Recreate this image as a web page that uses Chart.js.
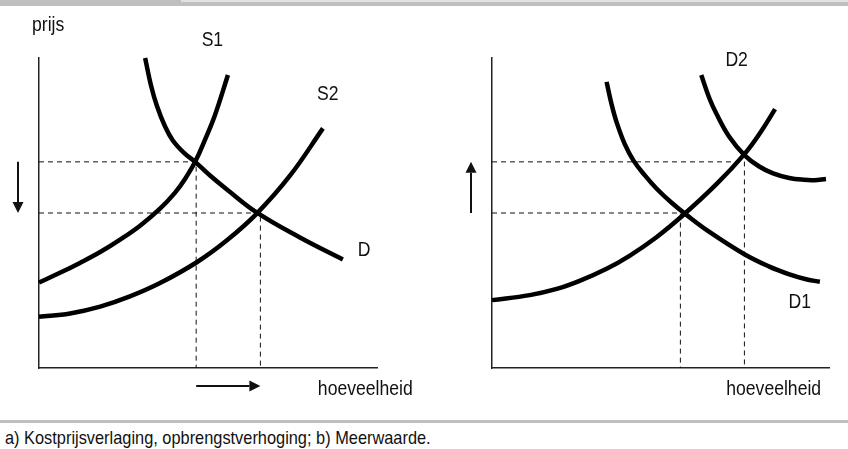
<!DOCTYPE html>
<html>
<head>
<meta charset="utf-8">
<script src="https://cdn.jsdelivr.net/npm/chart.js@4.4.0/dist/chart.umd.min.js"></script>
<style>
  html, body { margin: 0; padding: 0; background: #fff; }
  body {
    width: 848px; height: 449px; position: relative; overflow: hidden;
    font-family: "Liberation Sans", Arial, sans-serif;
  }
  #topbar { position: absolute; left: 0; top: 0; width: 848px; height: 6px; background: #bfbfbf; }
  #topbar-light { position: absolute; left: 181px; top: 0; width: 667px; height: 2px; background: #e2e2e2; }
  #bottombar { position: absolute; left: 0; top: 420px; width: 848px; height: 3px; background: #bfbfbf; }
  #footer {
    position: absolute; left: 5px; top: 428px; font-size: 18.6px; line-height: 19px; color: #111;
    white-space: nowrap; transform: scaleX(0.88); transform-origin: 0 0;
  }
  canvas { position: absolute; top: 0; }
  #left { left: 0; }
  #right { left: 424px; }
</style>
</head>
<body>
<div id="topbar"></div>
<div id="topbar-light"></div>
<canvas id="left" width="424" height="400"></canvas>
<canvas id="right" width="424" height="400"></canvas>
<div id="bottombar"></div>
<div id="footer">a) Kostprijsverlaging, opbrengstverhoging; b) Meerwaarde.</div>

<script>
// Left panel: supply shifts S1 -> S2, demand D stays
const s1X = [0, 6.2, 12.1, 18.1, 24, 29.9, 35.8, 40.2, 43.2, 46.2, 49.1, 52.1, 55.9];
const s1Y = [27.6, 30.7, 33.9, 37.4, 41.4, 45.9, 51.4, 56.5, 61, 66.5, 73.6, 81.7, 94.5];
const s2X = [0, 9.2, 18.1, 26.9, 35.8, 46.8, 55.6, 64.5, 74.3, 84];
const s2Y = [16.5, 17.6, 19.8, 23.1, 27.4, 34.2, 41.2, 49.9, 62.1, 77.3];
const dX = [31.4, 33.1, 34.9, 37.3, 39.6, 42.9, 46.2, 50.6, 55.6, 64.5, 77.2, 89.9];
const dY = [100, 91.3, 84.5, 77.9, 73.4, 69.4, 66.5, 62.1, 57.6, 50.1, 42.1, 35];
const leftPrice = [66.5, 50];   // old, new
const leftQty = [46.5, 65.5];

// Right panel: demand shifts D1 -> D2, supply stays
const sX = [0, 11.2, 19.2, 26, 34, 40.8, 48.8, 56.5, 66.6, 74.9, 79.6, 84];
const sY = [21.9, 23.5, 25.5, 28.1, 32, 36.2, 42.2, 49.1, 59.3, 69, 75.9, 83.5];
const d1X = [34, 35.5, 37, 39.4, 42, 45.3, 48.8, 53.3, 57.7, 64.5, 74.9, 82.3, 88.5, 92.9, 97.3];
const d1Y = [92.3, 85, 79.2, 72.2, 66.9, 62.2, 57.9, 53.3, 49.4, 43.9, 36.7, 32.7, 30.1, 28.7, 27.8];
const d2X = [62.1, 64.5, 66.6, 70.4, 74.9, 79.3, 83.4, 88.2, 92.6, 95.6, 99.1];
const d2Y = [94.5, 87, 82, 74.6, 68.7, 65, 62.8, 61.3, 60.7, 60.6, 61];
const rightPrice = [50, 66.5];
const rightQty = [55.9, 74.9];

const FONT = '"Liberation Sans", Arial, sans-serif';

function pts(xs, ys) {
  return xs.map((x, i) => ({ x: x, y: ys[i] }));
}

function curve(xs, ys) {
  return {
    data: pts(xs, ys),
    borderColor: '#000',
    borderWidth: 4.5,
    pointRadius: 0,
    fill: false,
    tension: 0.4,
    clip: false
  };
}

// dashed guide: from the price axis to the equilibrium and down to the quantity axis
function guide(q, p) {
  return {
    data: [{ x: 0, y: p }, { x: q, y: p }, { x: q, y: 0 }],
    borderColor: '#111',
    borderWidth: 1,
    borderDash: [5, 4],
    pointRadius: 0,
    fill: false,
    tension: 0
  };
}

function arrow(ctx, x1, y1, x2, y2) {
  const a = Math.atan2(y2 - y1, x2 - x1);
  const len = 11, half = 5.5;
  ctx.beginPath();
  ctx.moveTo(x1, y1);
  ctx.lineTo(x2 - Math.cos(a) * len, y2 - Math.sin(a) * len);
  ctx.stroke();
  ctx.beginPath();
  ctx.moveTo(x2, y2);
  ctx.lineTo(x2 - Math.cos(a) * len - Math.sin(a) * half, y2 - Math.sin(a) * len + Math.cos(a) * half);
  ctx.lineTo(x2 - Math.cos(a) * len + Math.sin(a) * half, y2 - Math.sin(a) * len - Math.cos(a) * half);
  ctx.closePath();
  ctx.fill();
}

// narrow text, like the condensed face of the original
function text(ctx, str, x, y) {
  ctx.save();
  ctx.translate(x, y);
  ctx.scale(0.88, 1);
  ctx.fillText(str, 0, 0);
  ctx.restore();
}

// Curve names, axis names and shift arrows
const annotate = {
  id: 'annotate',
  afterDraw(chart, args, opts) {
    const ctx = chart.ctx;
    const xs = chart.scales.x, ys = chart.scales.y;
    const area = chart.chartArea;
    ctx.save();
    ctx.fillStyle = '#111';
    ctx.strokeStyle = '#111';
    ctx.font = '20px ' + FONT;

    ctx.textAlign = 'center';
    ctx.textBaseline = 'middle';
    opts.labels.forEach(l => {
      text(ctx, l.text, xs.getPixelForValue(l.x), ys.getPixelForValue(l.y));
    });

    ctx.textAlign = 'left';
    ctx.textBaseline = 'alphabetic';
    if (opts.yTitle) text(ctx, opts.yTitle, area.left - 7, area.top - 27);
    text(ctx, opts.xTitle, xs.getPixelForValue(opts.xTitleAt), area.bottom + 27);

    ctx.lineWidth = 2;
    const ax = area.left - 21;
    arrow(ctx, ax, ys.getPixelForValue(opts.price[0]), ax, ys.getPixelForValue(opts.price[1]));
    if (opts.qtyArrow) {
      const ay = area.bottom + 18;
      arrow(ctx, xs.getPixelForValue(opts.qty[0]), ay, xs.getPixelForValue(opts.qty[1]), ay);
    }
    ctx.restore();
  }
};

function axis() {
  return {
    type: 'linear',
    min: 0,
    max: 100,
    grid: { display: false, drawTicks: false },
    ticks: { display: false },
    border: { display: true, color: '#222', width: 1.5 }
  };
}

function panel(id, padding, datasets, notes) {
  return new Chart(document.getElementById(id), {
    type: 'line',
    data: { datasets: datasets },
    options: {
      responsive: false,
      animation: false,
      events: [],
      layout: { padding: padding },
      scales: { x: axis(), y: axis() },
      plugins: {
        legend: { display: false },
        tooltip: { enabled: false },
        annotate: notes
      }
    },
    plugins: [annotate]
  });
}

panel('left', { left: 39, top: 58, right: 47, bottom: 32 }, [
  curve(s1X, s1Y),
  curve(s2X, s2Y),
  curve(dX, dY),
  guide(leftQty[0], leftPrice[0]),
  guide(leftQty[1], leftPrice[1])
], {
  labels: [
    { text: 'S1', x: 51.3, y: 105.6 },
    { text: 'S2', x: 85.4, y: 88.1 },
    { text: 'D', x: 96.2, y: 37.9 }
  ],
  yTitle: 'prijs',
  xTitle: 'hoeveelheid',
  xTitleAt: 82.5,
  price: leftPrice,
  qty: leftQty,
  qtyArrow: true
});

panel('right', { left: 68, top: 58, right: 19, bottom: 32 }, [
  curve(sX, sY),
  curve(d1X, d1Y),
  curve(d2X, d2Y),
  guide(rightQty[0], rightPrice[0]),
  guide(rightQty[1], rightPrice[1])
], {
  labels: [
    { text: 'D2', x: 72.6, y: 99.2 },
    { text: 'D1', x: 91.3, y: 21.1 }
  ],
  xTitle: 'hoeveelheid',
  xTitleAt: 69.5,
  price: rightPrice,
  qty: rightQty,
  qtyArrow: false
});
</script>
</body>
</html>
